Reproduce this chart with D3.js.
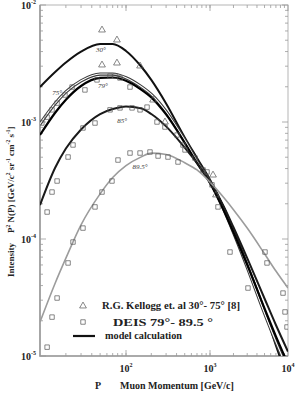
<!DOCTYPE html>
<html>
<head>
<meta charset="utf-8">
<script src="https://cdn.jsdelivr.net/npm/d3@7"></script>
<style>
    body { margin: 0; background: #fff; }
    svg { display: block; font-family: "Liberation Serif", "Times New Roman", serif; }
</style>
</head>
<body>
<div id="chart"></div>
<script>
// model curves, P^2 N(P) at a common momentum grid
const momenta = [10, 15, 20, 30, 50, 70, 100, 150, 200, 300, 500, 700, 1000, 1500, 2000, 3000, 5000, 7000, 10000];
const model30 = [1.99e-3, 2.67e-3, 3.22e-3, 3.99e-3, 4.64e-3, 4.64e-3, 4.05e-3, 3.01e-3, 2.29e-3, 1.44e-3, 7.38e-4, 4.92e-4, 3.21e-4, 1.87e-4, 1.20e-4, 6.10e-5, 2.46e-5, 1.23e-5, 6.3e-6];
const model75 = [9.62e-4, 1.44e-3, 1.81e-3, 2.25e-3, 2.57e-3, 2.57e-3, 2.39e-3, 2.02e-3, 1.72e-3, 1.23e-3, 7.00e-4, 4.62e-4, 3.08e-4, 1.79e-4, 1.14e-4, 5.74e-5, 2.32e-5, 1.32e-5, 7.6e-6];
const model79 = [7.74e-4, 1.20e-3, 1.55e-3, 2.03e-3, 2.38e-3, 2.40e-3, 2.25e-3, 1.90e-3, 1.62e-3, 1.16e-3, 6.64e-4, 4.46e-4, 3.01e-4, 1.76e-4, 1.14e-4, 6.00e-5, 2.55e-5, 1.47e-5, 8.55e-6];
const model85 = [1.95e-4, 4.06e-4, 5.93e-4, 8.63e-4, 1.17e-3, 1.29e-3, 1.36e-3, 1.31e-3, 1.17e-3, 9.17e-4, 6.04e-4, 4.45e-4, 3.07e-4, 1.90e-4, 1.26e-4, 6.86e-5, 3.10e-5, 1.84e-5, 1.09e-5];
const model895 = [1.95e-5, 4.19e-5, 6.86e-5, 1.32e-4, 2.43e-4, 3.35e-4, 4.24e-4, 5.01e-4, 5.42e-4, 5.28e-4, 4.48e-4, 3.89e-4, 3.06e-4, 2.26e-4, 1.78e-4, 1.24e-4, 7.48e-5, 5.32e-5, 3.81e-5];

const curveNames = ["30°", "75°", "79°", "85°", "89.5°"];
const curveLabelAt = [[51, 3.95e-3], [15.8, 1.70e-3], [54, 1.95e-3], [90, 9.8e-4], [147, 3.96e-4]];

// Kellogg et al. 30-75 deg (triangles)
const kelloggP = [52.6, 78.5, 52.6, 78.5, 147, 210, 291, 1093, 1194];
const kelloggI = [6.11e-3, 5.02e-3, 3.07e-3, 3.19e-3, 3.01e-3, 1.54e-3, 1.0e-3, 3.52e-4, 2.38e-4];

// DEIS 79-89.5 deg (squares)
const deisP = [10.5, 12.1, 13.8, 15.8, 19.5, 23.6, 33.3, 46.0, 65.2, 74.5, 85.1, 111.6,
    12.1, 13.8, 15.8, 21.2, 24.2, 31.6, 43.6, 65.2, 85.1, 118, 147, 178,
    12.1, 13.8, 15.8, 21.2, 24.2, 31.6, 43.6, 52.6, 68.7, 80.7, 111.6, 147, 193, 241, 316, 416,
    234, 291, 405, 477, 504, 662, 826, 921, 1061, 1267, 1804, 3070, 5070, 5380, 8630, 9160, 9710];
const deisI = [9.8e-4, 1.10e-3, 1.27e-3, 1.45e-3, 1.70e-3, 1.99e-3, 1.88e-3, 2.29e-3, 2.47e-3, 2.47e-3, 2.38e-3, 1.99e-3,
    1.70e-4, 2.52e-4, 3.13e-4, 5.02e-4, 6.36e-4, 8.89e-4, 9.8e-4, 1.27e-3, 1.32e-3, 1.32e-3, 1.27e-3, 1.34e-3,
    1.19e-5, 2.15e-5, 3.13e-5, 6.24e-5, 9.42e-5, 1.24e-4, 1.88e-4, 2.52e-4, 3.13e-4, 4.73e-4, 5.43e-4, 5.43e-4, 5.54e-4, 5.12e-4, 5.02e-4, 4.55e-4,
    1.0e-3, 9.06e-4, 7.74e-4, 6.36e-4, 5.77e-4, 4.92e-4, 3.89e-4, 3.74e-4, 2.90e-4, 1.88e-4, 7.74e-5, 3.81e-5, 7.74e-5, 6.24e-5, 3.45e-5, 2.38e-5, 1.77e-5];

const xTicks = [100, 1000, 10000];
const xTickSup = ["2", "3", "4"];
const yTicks = [1e-2, 1e-3, 1e-4, 1e-5];
const yTickSup = ["-2", "-3", "-4", "-5"];
const legendText = ["R.G. Kellogg et. al  30°- 75°  [8]", "DEIS 79°- 89.5 °", "model calculation"];

const width = 298, height = 393;
const plotL = 40, plotR = 288, plotT = 5, plotB = 356;

const svg = d3.select("#chart").append("svg")
    .attr("width", width)
    .attr("height", height);

// the scan is not quite uniform per decade, so the x scale is piecewise
const x = d3.scaleLog().domain([10, 100, 1000, 10000]).range([plotL, 126, 210, plotR]);
const y = d3.scaleLog().domain([1e-5, 1e-2]).range([plotB, plotT]);

svg.append("clipPath").attr("id", "plot")
    .append("rect").attr("x", plotL).attr("y", plotT).attr("width", plotR - plotL).attr("height", plotB - plotT);

// frame
svg.append("rect")
    .attr("x", plotL).attr("y", plotT).attr("width", plotR - plotL).attr("height", plotB - plotT)
    .attr("fill", "none").attr("stroke", "#b5b5b5").attr("stroke-width", 1);
svg.append("path")
    .attr("d", `M${plotL},${plotT}V${plotB}H${plotR}`)
    .attr("fill", "none").attr("stroke", "#9a9a9a").attr("stroke-width", 1.6);

// ticks, all pointing inwards
const ticks = svg.append("g").attr("stroke", "#999").attr("stroke-width", 0.8);
for (let e = 1; e < 4; e++) {
    for (let m = 1; m <= 10; m++) {
        const v = m * Math.pow(10, e);
        if (v <= 10) continue;
        const len = m === 10 ? 6 : 3;
        ticks.append("line").attr("x1", x(v)).attr("x2", x(v)).attr("y1", plotB).attr("y2", plotB - len);
        ticks.append("line").attr("x1", x(v)).attr("x2", x(v)).attr("y1", plotT).attr("y2", plotT + len);
    }
}
for (let e = -5; e < -2; e++) {
    for (let m = 2; m <= 9; m++) {
        const v = m * Math.pow(10, e);
        ticks.append("line").attr("x1", plotL).attr("x2", plotL + 3).attr("y1", y(v)).attr("y2", y(v));
        ticks.append("line").attr("x1", plotR).attr("x2", plotR - 3).attr("y1", y(v)).attr("y2", y(v));
    }
}
yTicks.forEach(v => {
    ticks.append("line").attr("x1", plotL).attr("x2", plotL + 6).attr("y1", y(v)).attr("y2", y(v));
    ticks.append("line").attr("x1", plotR).attr("x2", plotR - 6).attr("y1", y(v)).attr("y2", y(v));
});

// tick labels
const tickFont = g => g.attr("font-size", 10).attr("font-weight", "bold").attr("fill", "#222");
xTicks.forEach((v, i) => {
    const t = svg.append("text").call(tickFont)
        .attr("x", x(v)).attr("y", 372).attr("text-anchor", "middle");
    t.append("tspan").text("10");
    t.append("tspan").attr("dy", -5).attr("font-size", 6).text(xTickSup[i]);
});
yTicks.forEach((v, i) => {
    const t = svg.append("text").call(tickFont)
        .attr("x", 36).attr("y", y(v) + 4).attr("text-anchor", "end");
    t.append("tspan").text("10");
    t.append("tspan").attr("dy", -5).attr("font-size", 6).text(yTickSup[i]);
});

// axis titles
const xt = svg.append("text").call(tickFont).attr("y", 389);
xt.append("tspan").attr("x", 95).text("P");
xt.append("tspan").attr("x", 120).text("Muon Momentum [GeV/c]");

const yt = svg.append("text").call(tickFont)
    .attr("font-size", 9)
    .attr("transform", "translate(14,277) rotate(-90)");
yt.append("tspan").text("Intensity");
const sup = (t, s) => t.append("tspan").attr("dy", -4).attr("font-size", 5.5).text(s);
const base = (t, s) => t.append("tspan").attr("dy", 4).text(s);
yt.append("tspan").attr("dx", 10).text("P");
sup(yt, "2");
base(yt, " N(P) [GeV/c");
sup(yt, "2");
base(yt, " sr");
sup(yt, "-1");
base(yt, " cm");
sup(yt, "-2");
base(yt, " s");
sup(yt, "-1");
base(yt, "]");

// model curves
const line = d3.line()
    .x(d => x(d[0]))
    .y(d => y(d[1]))
    .curve(d3.curveMonotoneX);
const series = [model30, model75, model79, model85, model895];
const styles = [
    {stroke: "#111", w: 2},
    {stroke: "#3a3a3a", w: 3.2, inner: 1.1},
    {stroke: "#000", w: 2.2},
    {stroke: "#1a1a1a", w: 2},
    {stroke: "#9c9c9c", w: 1.6}
];
const curves = svg.append("g").attr("clip-path", "url(#plot)").attr("fill", "none");
series.forEach((vals, i) => {
    const pts = momenta.map((p, j) => [p, vals[j]]);
    curves.append("path").attr("d", line(pts))
        .attr("stroke", styles[i].stroke).attr("stroke-width", styles[i].w);
    if (styles[i].inner) {
        curves.append("path").attr("d", line(pts))
            .attr("stroke", "#fff").attr("stroke-width", styles[i].inner);
    }
});

// markers
const marks = svg.append("g").attr("clip-path", "url(#plot)")
    .attr("fill", "none").attr("stroke", "#555").attr("stroke-width", 0.7);
const tri = d3.symbol(d3.symbolTriangle, 20);
const sq = d3.symbol(d3.symbolSquare, 20);
marks.selectAll(".tri").data(kelloggP).join("path")
    .attr("transform", (p, i) => `translate(${x(p)},${y(kelloggI[i])})`)
    .attr("d", tri);
marks.selectAll(".sq").data(deisP).join("path")
    .attr("transform", (p, i) => `translate(${x(p)},${y(deisI[i])})`)
    .attr("d", sq);

// curve labels
curveNames.forEach((n, i) => {
    svg.append("text")
        .attr("x", x(curveLabelAt[i][0])).attr("y", y(curveLabelAt[i][1]))
        .attr("font-size", 7).attr("font-style", "italic").attr("fill", "#333")
        .attr("text-anchor", "middle")
        .text(n);
});

// legend
const legend = svg.append("g").attr("font-size", 9.5).attr("font-weight", "bold").attr("fill", "#222");
legend.append("path").attr("transform", "translate(83,306)").attr("d", tri)
    .attr("fill", "none").attr("stroke", "#555").attr("stroke-width", 0.7);
legend.append("path").attr("transform", "translate(83,322)").attr("d", sq)
    .attr("fill", "none").attr("stroke", "#555").attr("stroke-width", 0.7);
legend.append("line").attr("x1", 73).attr("x2", 95).attr("y1", 336).attr("y2", 336)
    .attr("stroke", "#111").attr("stroke-width", 2.2);
legend.append("text").attr("x", 102).attr("y", 309).attr("textLength", 138).attr("lengthAdjust", "spacingAndGlyphs").text(legendText[0]);
legend.append("text").attr("x", 113).attr("y", 326).attr("font-size", 10.5).attr("textLength", 100).attr("lengthAdjust", "spacingAndGlyphs").text(legendText[1]);
legend.append("text").attr("x", 105).attr("y", 339).attr("textLength", 77).attr("lengthAdjust", "spacingAndGlyphs").text(legendText[2]);
</script>
</body>
</html>
